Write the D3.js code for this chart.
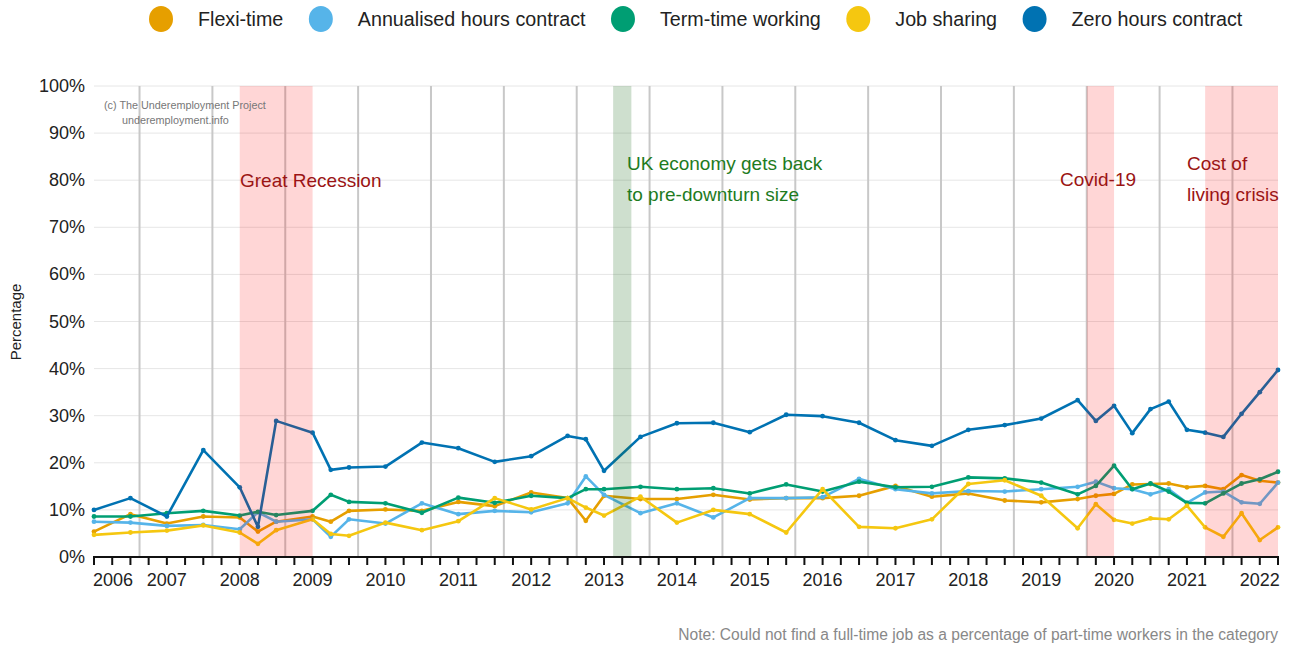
<!DOCTYPE html>
<html>
<head>
<meta charset="utf-8">
<script src="https://cdn.jsdelivr.net/npm/d3@7"></script>
<style>
  body { margin: 0; background: #fff; }
  svg { display: block; font-family: "Liberation Sans", Arial, sans-serif; }
</style>
</head>
<body>
<svg id="chart" width="1291" height="646"></svg>
<script>
// survey dates as decimal years (quarter index / 4)
const dates = [2006.0, 2006.5, 2007.0, 2007.5, 2008.0, 2008.25, 2008.5, 2009.0, 2009.25, 2009.5,
  2010.0, 2010.5, 2011.0, 2011.5, 2012.0, 2012.5, 2012.75, 2013.0, 2013.5, 2014.0,
  2014.5, 2015.0, 2015.5, 2016.0, 2016.5, 2017.0, 2017.5, 2018.0, 2018.5, 2019.0,
  2019.5, 2019.75, 2020.0, 2020.25, 2020.5, 2020.75, 2021.0, 2021.25, 2021.5, 2021.75,
  2022.0, 2022.25];

const flexiTime = [5.4, 9.1, 7.1, 8.6, 8.4, 5.4, 7.5, 8.6, 7.5, 9.8,
  10.1, 9.8, 11.7, 10.8, 13.7, 12.5, 7.7, 13.0, 12.3, 12.3,
  13.2, 12.2, 12.5, 12.5, 13.0, 15.1, 12.8, 13.5, 12.0, 11.6,
  12.3, 13.0, 13.4, 15.4, 15.5, 15.6, 14.8, 15.1, 14.4, 17.4,
  16.2, 15.8];

const annualisedHours = [7.5, 7.3, 6.6, 6.8, 5.9, 9.5, 7.5, 8.0, 4.3, 8.0,
  7.1, 11.4, 9.1, 9.8, 9.5, 11.4, 17.1, 13.2, 9.3, 11.4,
  8.4, 12.5, 12.5, 12.7, 16.6, 14.4, 13.5, 14.0, 13.9, 14.4,
  14.9, 16.0, 14.6, 14.4, 13.3, 14.4, 11.5, 13.7, 13.9, 11.6,
  11.3, 15.8];

const termTime = [8.6, 8.6, 9.3, 9.8, 8.8, 9.6, 8.9, 9.8, 13.2, 11.7,
  11.4, 9.4, 12.6, 11.5, 13.0, 12.5, 14.4, 14.4, 14.9, 14.4,
  14.6, 13.5, 15.4, 13.9, 16.0, 14.8, 14.9, 16.9, 16.7, 15.8,
  13.3, 15.1, 19.4, 14.4, 15.6, 13.9, 11.5, 11.4, 13.5, 15.6,
  16.5, 18.1];

const jobSharing = [4.7, 5.2, 5.6, 6.7, 5.2, 2.8, 5.7, 8.0, 4.9, 4.5,
  7.3, 5.7, 7.6, 12.5, 10.1, 12.5, 10.5, 8.8, 12.8, 7.3,
  10.0, 9.1, 5.2, 14.4, 6.4, 6.1, 8.0, 15.5, 16.3, 13.0,
  6.1, 11.2, 7.9, 7.1, 8.2, 8.0, 10.9, 6.3, 4.3, 9.3,
  3.6, 6.3];

const zeroHours = [10.0, 12.5, 8.6, 22.7, 14.8, 6.4, 28.9, 26.4, 18.5, 19.0,
  19.2, 24.3, 23.1, 20.2, 21.4, 25.7, 25.0, 18.3, 25.5, 28.4,
  28.5, 26.5, 30.2, 29.9, 28.5, 24.8, 23.6, 27.0, 28.0, 29.4,
  33.3, 28.9, 32.1, 26.3, 31.4, 33.0, 27.0, 26.4, 25.5, 30.4,
  35.0, 39.7];

const seriesNames = ["Flexi-time", "Annualised hours contract", "Term-time working", "Job sharing", "Zero hours contract"];
const seriesValues = [flexiTime, annualisedHours, termTime, jobSharing, zeroHours];
const colors = ["#E69F00", "#56B4E9", "#009E73", "#F5C710", "#0072B2"];

const yearLabels = d3.range(2006, 2023);
const yearLines = d3.range(2006.625, 2022, 1);
const yTicks = d3.range(0, 101, 10);

const bands = [
  { from: 2008.0, to: 2009.0, fill: "rgba(255,0,0,0.16)", label: ["Great Recession"], color: "#9b1414", tx: 240, ty: 187 },
  { from: 2013.125, to: 2013.375, fill: "rgba(30,110,30,0.22)", label: ["UK economy gets back", "to pre-downturn size"], color: "#1e7b1e", tx: 627, ty: 170 },
  { from: 2019.625, to: 2020.0, fill: "rgba(255,0,0,0.16)", label: ["Covid-19"], color: "#9b1414", tx: 1060, ty: 186 },
  { from: 2021.25, to: 2022.25, fill: "rgba(255,0,0,0.16)", label: ["Cost of", "living crisis"], color: "#9b1414", tx: 1187, ty: 170 }
];

/**
 * Set stuff up.
 */
const svg = d3.select('#chart');
const plotLeft = 94, plotRight = 1278, plotTop = 86, plotBottom = 557;

const x = d3.scaleLinear().domain([2006, 2022.25]).range([plotLeft, plotRight]);
const y = d3.scaleLinear().domain([0, 100]).range([plotBottom, plotTop]);

// horizontal grid
svg.append('g')
  .selectAll('line')
  .data(yTicks.slice(1))
  .enter()
  .append('line')
  .attr('x1', plotLeft).attr('x2', plotRight)
  .attr('y1', d => y(d)).attr('y2', d => y(d))
  .attr('stroke', '#e6e6e6').attr('stroke-width', 1);

// y axis labels
svg.append('g')
  .selectAll('text')
  .data(yTicks)
  .enter()
  .append('text')
  .attr('x', 85)
  .attr('y', d => y(d) + 6)
  .attr('text-anchor', 'end')
  .attr('font-size', 18)
  .attr('fill', '#222')
  .text(d => d + '%');

svg.append('text')
  .attr('transform', 'translate(21,322) rotate(-90)')
  .attr('text-anchor', 'middle')
  .attr('font-size', 15)
  .attr('fill', '#222')
  .text('Percentage');

// vertical year lines
svg.append('g')
  .selectAll('line')
  .data(yearLines)
  .enter()
  .append('line')
  .attr('x1', d => x(d)).attr('x2', d => x(d))
  .attr('y1', plotTop).attr('y2', plotBottom)
  .attr('stroke', '#c8c8c8').attr('stroke-width', 2);

// series lines
const line = d3.line()
  .x((d, i) => x(dates[i]))
  .y(d => y(d));

const series = svg.append('g')
  .selectAll('g')
  .data(seriesValues)
  .enter()
  .append('g');

series.append('path')
  .attr('d', d => line(d))
  .attr('fill', 'none')
  .attr('stroke', (d, i) => colors[i])
  .attr('stroke-width', 2.6)
  .attr('stroke-linejoin', 'round');

series.each(function (vals, i) {
  d3.select(this)
    .selectAll('circle')
    .data(vals)
    .enter()
    .append('circle')
    .attr('cx', (d, j) => x(dates[j]))
    .attr('cy', d => y(d))
    .attr('r', 2.4)
    .attr('fill', colors[i]);
});

// shaded periods (on top, translucent)
svg.append('g')
  .selectAll('rect')
  .data(bands)
  .enter()
  .append('rect')
  .attr('x', d => x(d.from))
  .attr('width', d => x(d.to) - x(d.from))
  .attr('y', plotTop).attr('height', plotBottom - plotTop)
  .attr('fill', d => d.fill);

// band labels
bands.forEach(b => {
  const t = svg.append('text')
    .attr('font-size', 19)
    .attr('fill', b.color);
  b.label.forEach((s, i) => {
    t.append('tspan')
      .attr('x', b.tx)
      .attr('y', b.ty + i * 31)
      .text(s);
  });
});

// copyright
svg.append('text').attr('x', 104).attr('y', 109).attr('font-size', 10.8).attr('fill', '#777')
  .text('(c) The Underemployment Project');
svg.append('text').attr('x', 122).attr('y', 124).attr('font-size', 10.8).attr('fill', '#777')
  .text('underemployment.info');

// x axis
const xAxis = svg.append('g');
xAxis.append('line')
  .attr('x1', plotLeft - 1).attr('x2', plotRight + 1)
  .attr('y1', plotBottom).attr('y2', plotBottom)
  .attr('stroke', '#111').attr('stroke-width', 2);

xAxis.selectAll('line.tick')
  .data(d3.range(0, 66).map(k => 2006 + k / 4))
  .enter()
  .append('line')
  .attr('class', 'tick')
  .attr('x1', d => x(d)).attr('x2', d => x(d))
  .attr('y1', plotBottom).attr('y2', plotBottom + 8)
  .attr('stroke', '#111').attr('stroke-width', 2);

xAxis.selectAll('text')
  .data(yearLabels)
  .enter()
  .append('text')
  .attr('x', d => d === 2006 ? plotLeft - 1 : x(d))
  .attr('y', 586)
  .attr('text-anchor', d => d === 2006 ? 'start' : 'middle')
  .attr('font-size', 18)
  .attr('fill', '#222')
  .text(d => d);

// legend
const legend = svg.append('g');
let lx = 161;
seriesNames.forEach((name, i) => {
  legend.append('ellipse')
    .attr('cx', lx).attr('cy', 19)
    .attr('rx', 12).attr('ry', 13)
    .attr('fill', colors[i]);
  const t = legend.append('text')
    .attr('x', lx + 37).attr('y', 26)
    .attr('font-size', 19.7)
    .attr('fill', '#222')
    .text(name);
  lx = lx + 37 + t.node().getComputedTextLength() + 37.5;
});

// note
svg.append('text')
  .attr('x', 1278).attr('y', 640)
  .attr('text-anchor', 'end')
  .attr('font-size', 15.6)
  .attr('fill', '#888')
  .text('Note: Could not find a full-time job as a percentage of part-time workers in the category');
</script>
</body>
</html>
